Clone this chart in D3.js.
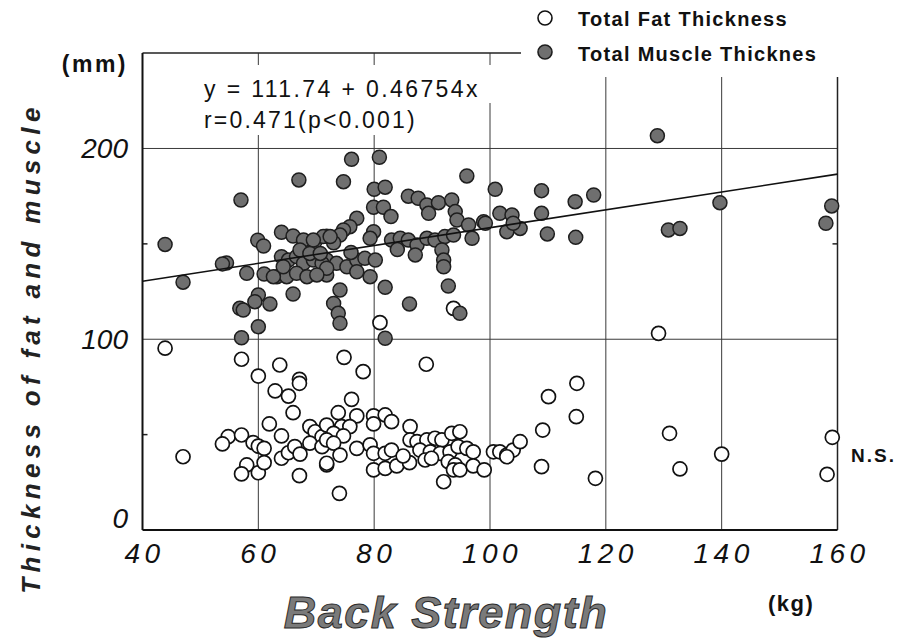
<!DOCTYPE html>
<html>
<head>
<meta charset="utf-8">
<script src="https://cdn.jsdelivr.net/npm/d3@7"></script>
<style>
  html, body { margin: 0; padding: 0; background: #fff; }
  svg { display: block; }
  text { font-family: Arial, "Liberation Sans", Helvetica, sans-serif; }
</style>
</head>
<body>
<svg id="chart" width="900" height="639"></svg>
<script>
// ---- Data ----
const xTicks = [40, 60, 80, 100, 120, 140, 160];
const yTicks = [0, 100, 200];
const yMinorTicks = [50, 150];
const xGrid = [60, 80, 100, 120, 140];
const yGrid = [100, 200];

// Regression (muscle): y = 111.74 + 0.46754x
const regIntercept = 111.74;
const regSlope = 0.46754;

// Total Muscle Thickness (filled) : [back strength kg, thickness mm]
const muscleX = [43.9,47.0,57.0,67.0,54.5,53.8,59.9,60.9,58.0,61.0,64.0,66.0,64.0,63.2,64.9,66.0,60.0,59.4,62.0,56.8,57.4,60.0,57.1,
  76.1,80.9,74.7,80.0,81.9,96.0,100.9,79.9,81.6,82.9,85.9,87.6,89.1,89.4,91.1,93.4,94.0,94.3,96.3,98.9,96.9,101.7,103.8,102.9,
  77.0,75.8,74.7,74.1,79.9,79.3,71.8,73.0,83.0,84.5,85.9,87.4,87.1,89.1,90.5,92.2,91.7,92.0,92.0,93.7,
  71.8,73.5,75.3,77.0,78.4,80.2,79.3,77.0,71.8,81.9,92.8,86.1,94.8,74.1,73.0,73.8,74.1,81.9,
  67.8,69.8,71.2,72.4,67.8,69.5,65.2,66.6,67.8,69.5,71.0,71.8,66.6,68.4,70.1,67.2,68.9,70.7,64.3,62.6,
  128.9,108.9,114.7,117.9,139.7,159.0,158.0,105.2,104.0,108.9,109.9,114.8,130.8,132.8,99.2,84.0,76.0];
const muscleY = [149.7,129.9,173.0,183.5,140.0,139.5,151.9,148.9,134.6,134.2,156.1,154.1,143.3,132.8,132.8,123.7,123.2,119.7,118.5,116.2,115.3,106.6,100.8,
  194.3,195.4,182.6,178.6,179.7,185.6,178.6,169.2,169.2,164.3,175.0,173.9,170.4,166.0,171.6,173.0,166.9,162.5,159.9,161.6,152.9,166.0,165.1,156.4,
  163.4,159.0,157.3,154.6,156.4,152.9,154.0,150.6,152.0,152.9,152.0,149.4,144.2,152.9,152.0,153.8,146.8,141.5,138.0,154.6,
  141.5,139.8,138.0,141.5,142.4,141.5,132.8,135.4,133.7,127.2,127.9,118.5,113.6,125.8,118.8,113.6,108.4,100.5,
  148.5,151.2,153.8,153.8,152.0,152.0,141.5,143.3,139.8,141.5,139.8,137.2,134.6,132.8,133.7,146.8,145.0,145.0,138.0,132.8,
  206.7,177.9,172.1,175.6,171.6,169.9,160.8,158.1,160.8,166.0,155.2,153.4,157.3,158.1,160.8,147.0,145.5];

// Total Fat Thickness (open) : [back strength kg, thickness mm]
const fatX = [43.9,47.0,57.1,60.0,63.7,62.9,65.2,67.1,67.1,66.0,61.9,64.0,54.8,53.8,57.1,59.1,60.0,61.0,58.0,57.1,60.0,61.0,
  64.0,65.2,66.3,67.2,67.1,68.9,69.8,71.0,71.8,68.9,71.0,71.8,
  74.8,78.1,89.0,76.1,73.8,77.0,79.9,81.9,83.0,79.9,74.4,75.8,73.0,74.7,71.8,73.0,74.1,71.8,77.0,79.3,79.9,81.9,83.0,
  79.9,81.9,83.9,86.1,85.0,74.0,86.2,86.2,87.4,89.1,90.5,91.7,93.4,94.8,
  87.9,89.7,91.4,93.1,94.5,96.0,97.1,88.8,89.9,92.8,94.0,93.7,94.8,97.1,99.0,92.0,
  100.6,101.7,102.9,104.0,105.2,102.9,
  129.1,115.0,110.1,114.9,109.1,108.9,118.2,131.0,132.8,140.0,159.1,158.2,81.0,93.7];
const fatY = [95.3,38.4,89.5,80.7,86.5,72.9,70.2,79.0,76.9,61.5,55.6,49.3,48.9,45.1,49.8,45.8,44.0,42.8,34.1,29.4,30.0,35.3,
  37.6,40.5,43.7,39.8,28.5,54.2,51.5,48.9,55.0,45.5,43.7,34.1,
  90.5,83.0,86.9,68.5,61.5,59.8,59.8,60.3,56.8,55.6,54.2,54.2,50.7,49.3,47.2,45.5,39.3,35.0,42.8,44.6,40.2,40.2,41.9,
  31.5,32.3,33.6,35.3,38.8,19.2,54.2,47.2,46.3,47.2,48.1,47.2,50.7,51.5,
  41.9,41.0,40.2,41.0,43.7,42.8,41.0,36.7,37.6,35.8,34.1,31.5,31.5,33.6,31.5,25.3,
  41.0,41.0,39.3,41.9,46.3,38.4,
  103.1,76.9,69.9,59.4,52.4,33.2,27.1,50.7,32.0,39.8,48.6,29.2,108.7,116.2];

const legendLabels = ["Total Fat Thickness", "Total Muscle Thicknes"];
const equationLines = ["y = 111.74 + 0.46754x", "r=0.471(p<0.001)"];
const yTitle = "Thickness of fat and muscle";
const xTitle = "Back Strength";
const yUnit = "(mm)";
const xUnit = "(kg)";
const nsLabel = "N.S.";

// ---- Layout ----
const svg = d3.select("#chart");
const plot = { left: 142.5, right: 837.5, top: 53.1, bottom: 530 };
const x = d3.scaleLinear().domain([40, 160]).range([plot.left, plot.right]);
const y = d3.scaleLinear().domain([0, 250]).range([plot.bottom, plot.top]);

const gridColor = "#3a3a3a";

// Grid lines
svg.append("g").selectAll("line").data(xGrid).join("line")
  .attr("x1", d => x(d)).attr("x2", d => x(d))
  .attr("y1", y(250)).attr("y2", y(0))
  .attr("stroke", gridColor).attr("stroke-width", 1);
svg.append("g").selectAll("line").data(yGrid).join("line")
  .attr("x1", x(40)).attr("x2", x(160))
  .attr("y1", d => y(d)).attr("y2", d => y(d))
  .attr("stroke", gridColor).attr("stroke-width", 1);

// Frame
svg.append("line").attr("x1", x(40)).attr("x2", x(160)).attr("y1", y(250)).attr("y2", y(250))
  .attr("stroke", "#222").attr("stroke-width", 1.5);
svg.append("line").attr("x1", x(160)).attr("x2", x(160)).attr("y1", y(250)).attr("y2", y(0))
  .attr("stroke", "#222").attr("stroke-width", 1.5);

// Minor ticks (left & right, inside)
svg.append("g").selectAll("line").data(yMinorTicks).join("line")
  .attr("x1", x(40)).attr("x2", x(40) + 5)
  .attr("y1", d => y(d)).attr("y2", d => y(d))
  .attr("stroke", "#222").attr("stroke-width", 1.5);
svg.append("g").selectAll("line").data(yMinorTicks).join("line")
  .attr("x1", x(160) - 5).attr("x2", x(160))
  .attr("y1", d => y(d)).attr("y2", d => y(d))
  .attr("stroke", "#222").attr("stroke-width", 1.5);

// Equation text with white backing (gridlines interrupted)
const eq = svg.append("g");
eq.append("rect").attr("x", 196).attr("y", 65).attr("width", 296).attr("height", 38).attr("fill", "#fff");
eq.append("rect").attr("x", 196).attr("y", 103).attr("width", 232).attr("height", 32).attr("fill", "#fff");
eq.selectAll("text").data(equationLines).join("text")
  .attr("x", 204).attr("y", (d, i) => 97 + i * 31)
  .attr("font-size", 23).attr("letter-spacing", (d, i) => i === 0 ? 2.4 : 2.2)
  .attr("fill", "#111").text(d => d);

// Points: fat (open) first, muscle (filled) on top
const fatData = fatX.map((v, i) => [v, fatY[i]]);
const muscleData = muscleX.map((v, i) => [v, muscleY[i]]);
svg.append("g").selectAll("circle").data(fatData).join("circle")
  .attr("cx", d => x(d[0])).attr("cy", d => y(d[1])).attr("r", 7)
  .attr("fill", "#fff").attr("stroke", "#111").attr("stroke-width", 1.7);
svg.append("g").selectAll("circle").data(muscleData).join("circle")
  .attr("cx", d => x(d[0])).attr("cy", d => y(d[1])).attr("r", 7)
  .attr("fill", "#6f6f6f").attr("stroke", "#1e1e1e").attr("stroke-width", 1.5);

// Regression line
svg.append("line")
  .attr("x1", x(40)).attr("y1", y(regIntercept + regSlope * 40))
  .attr("x2", x(160)).attr("y2", y(regIntercept + regSlope * 160))
  .attr("stroke", "#111").attr("stroke-width", 1.6);

// Left and bottom axes (thicker)
svg.append("line").attr("x1", x(40)).attr("x2", x(40)).attr("y1", y(250)).attr("y2", y(0))
  .attr("stroke", "#111").attr("stroke-width", 2);
svg.append("line").attr("x1", x(40)).attr("x2", x(160)).attr("y1", y(0)).attr("y2", y(0))
  .attr("stroke", "#111").attr("stroke-width", 2);

// Legend box (white area hides frame top)
svg.append("rect").attr("x", 521).attr("y", 0).attr("width", 330).attr("height", 77).attr("fill", "#fff");
const legend = svg.append("g");
legend.selectAll("circle").data(legendLabels).join("circle")
  .attr("cx", 545).attr("cy", (d, i) => 18 + i * 34).attr("r", 7)
  .attr("fill", (d, i) => i === 0 ? "#fff" : "#6f6f6f")
  .attr("stroke", (d, i) => i === 0 ? "#111" : "#1e1e1e").attr("stroke-width", 1.6);
legend.selectAll("text").data(legendLabels).join("text")
  .attr("x", 578).attr("y", (d, i) => 26 + i * 35)
  .attr("font-size", 20).attr("font-weight", "bold").attr("letter-spacing", 1.3)
  .attr("fill", "#111").text(d => d);

// Y tick labels
svg.append("g").selectAll("text").data(yTicks).join("text")
  .attr("x", 128).attr("y", d => y(d) + 10 - (d === 0 ? 12 : 0))
  .attr("text-anchor", "end").attr("font-size", 28).attr("font-style", "italic")
  .attr("fill", "#111").text(d => d);

// X tick labels
svg.append("g").selectAll("text").data(xTicks).join("text")
  .attr("x", d => x(d) + 2).attr("y", 563)
  .attr("text-anchor", "middle").attr("font-size", 28).attr("font-style", "italic")
  .attr("letter-spacing", 4.5).attr("fill", "#111").text(d => d);

// Units
svg.append("text").attr("x", 128).attr("y", 72).attr("text-anchor", "end")
  .attr("font-size", 23).attr("font-weight", "bold").attr("letter-spacing", 2.5)
  .attr("fill", "#111").text(yUnit);
svg.append("text").attr("x", 768).attr("y", 611)
  .attr("font-size", 22).attr("font-weight", "bold").attr("letter-spacing", 1.5)
  .attr("fill", "#111").text(xUnit);

// N.S.
svg.append("text").attr("x", 851).attr("y", 462)
  .attr("font-size", 19).attr("font-weight", "bold").attr("letter-spacing", 2)
  .attr("fill", "#111").text(nsLabel);

// Axis titles
svg.append("text").attr("transform", "translate(40,348) rotate(-90)")
  .attr("text-anchor", "middle").attr("font-size", 26).attr("font-weight", "bold")
  .attr("font-style", "italic").attr("letter-spacing", 5.3)
  .attr("fill", "#222").text(yTitle);
svg.append("text").attr("x", 446).attr("y", 628).attr("text-anchor", "middle")
  .attr("font-size", 45).attr("font-weight", "bold").attr("font-style", "italic")
  .attr("letter-spacing", 1.5)
  .attr("fill", "#7a7a7a").attr("stroke", "#2a2a2a").attr("stroke-width", 1)
  .text(xTitle);
</script>
</body>
</html>
